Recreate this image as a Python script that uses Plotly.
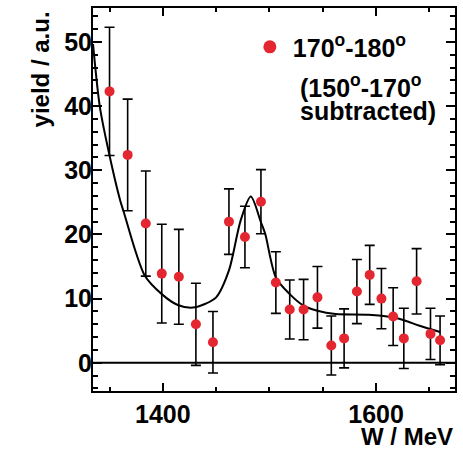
import plotly.graph_objects as go

# Data points (W in MeV, yield in a.u.)
W = [1350, 1367, 1384, 1399, 1415, 1431, 1447, 1462, 1477, 1492, 1506, 1519,
     1532, 1545, 1558, 1570, 1582, 1594, 1605, 1616, 1626, 1638, 1651, 1660]
yield_vals = [42.3, 32.4, 21.7, 13.9, 13.4, 6.0, 3.2, 22.0, 19.6, 25.1, 12.5, 8.3,
              8.3, 10.2, 2.7, 3.8, 11.1, 13.7, 10.0, 7.2, 3.8, 12.7, 4.5, 3.5]
yield_err = [10.0, 8.7, 8.2, 7.7, 7.4, 6.4, 4.8, 5.1, 4.8, 5.0, 4.8, 4.6,
             4.7, 4.8, 4.6, 4.6, 5.0, 4.6, 4.7, 4.5, 4.7, 5.1, 4.0, 3.8]

# Fit curve
fit_W = [1334.5, 1341, 1350, 1360, 1363, 1383, 1399, 1414, 1428, 1440, 1450, 1462,
         1473, 1482.5, 1492, 1496, 1506, 1519, 1532, 1545, 1562, 1593, 1615, 1627,
         1640, 1660]
fit_y = [49.7, 39.8, 32.3, 25.3, 23.7, 13.6, 10.7, 9.0, 8.6, 9.2, 10.2, 14.4,
         22.2, 25.9, 21.9, 20.1, 13.3, 10.7, 8.9, 8.1, 7.6, 7.5, 7.1, 6.6,
         5.8, 4.8]

x_range = [1334.5, 1674]
y_range = [-4.4, 55.3]

legend_label = "170<sup>o</sup>-180<sup>o</sup>"
note_line1 = "(150<sup>o</sup>-170<sup>o</sup>"
note_line2 = "subtracted)"

RED = "#e42631"
FONT = "Liberation Sans, Arial, sans-serif"
TICKFONT = dict(family=FONT, size=25, color="black", weight="bold")
TITLEFONT = dict(family=FONT, size=24, color="black", weight="bold")
LEGFONT = dict(family=FONT, size=25, color="black", weight="bold")

fig = go.Figure()

# zero line
fig.add_trace(go.Scatter(x=x_range, y=[0, 0], mode="lines",
                         line=dict(color="black", width=2), showlegend=False,
                         hoverinfo="skip"))

fig.add_trace(go.Scatter(x=fit_W, y=fit_y, mode="lines",
                         line=dict(color="black", width=2, shape="spline", smoothing=0.8),
                         showlegend=False))

fig.add_trace(go.Scatter(x=W, y=yield_vals, mode="markers",
                         marker=dict(color=RED, size=10),
                         error_y=dict(type="data", array=yield_err, visible=True,
                                      color="black", thickness=1.6, width=5),
                         showlegend=False))

# legend entry
fig.add_trace(go.Scatter(x=[None], y=[None], mode="markers",
                         marker=dict(color=RED, size=13), name=legend_label,
                         showlegend=True))

axis_common = dict(showline=True, linecolor="black", linewidth=2, mirror="allticks",
                   ticks="inside", tickcolor="black", tickwidth=1.5,
                   showgrid=False, zeroline=False,
                   tickfont=TICKFONT)

fig.update_xaxes(range=x_range, dtick=200, tick0=1400, ticklen=8,
                 minor=dict(dtick=50, tick0=1400, ticklen=4, ticks="inside",
                            tickcolor="black", tickwidth=1.5),
                 **axis_common)
fig.update_yaxes(range=y_range, dtick=10, tick0=0, ticklen=9,
                 ticklabelstandoff=-6,
                 minor=dict(dtick=2, tick0=0, ticklen=5, ticks="inside",
                            tickcolor="black", tickwidth=1.5),
                 **axis_common)

fig.add_annotation(text="yield / a.u.", xref="paper", yref="paper",
                   x=-0.145, y=0.995, xanchor="center", yanchor="top",
                   textangle=-90, showarrow=False, font=TITLEFONT)
fig.add_annotation(text="W / MeV", xref="paper", yref="paper",
                   x=1.0, y=-0.12, xanchor="right", yanchor="middle",
                   showarrow=False, font=TITLEFONT)
fig.add_annotation(text=note_line1, xref="paper", yref="paper",
                   x=0.566, y=0.797, xanchor="left", yanchor="middle", align="left",
                   showarrow=False, font=LEGFONT)
fig.add_annotation(text=note_line2, xref="paper", yref="paper",
                   x=0.566, y=0.732, xanchor="left", yanchor="middle", align="left",
                   showarrow=False, font=LEGFONT)

fig.update_layout(
    width=463, height=451,
    margin=dict(l=93, r=6, t=7, b=60),
    paper_bgcolor="white", plot_bgcolor="white",
    font=TICKFONT,
    legend=dict(x=0.425, y=0.958, xanchor="left", yanchor="top",
                bgcolor="rgba(0,0,0,0)", itemwidth=36,
                font=LEGFONT),
)

fig.write_html("out.html")
